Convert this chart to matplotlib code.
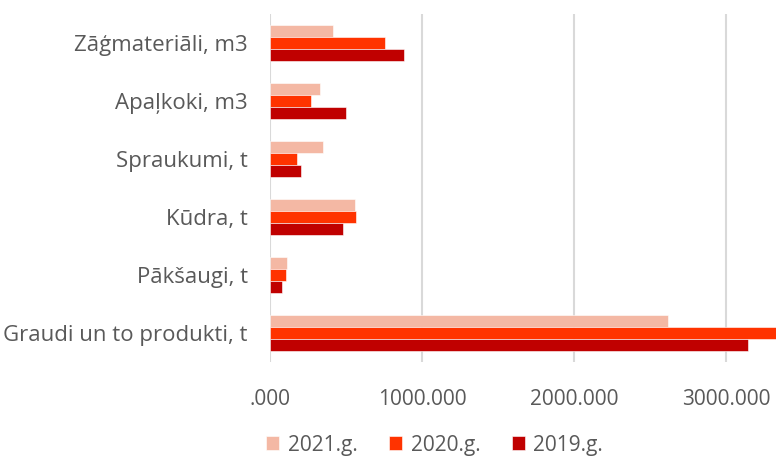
import matplotlib.pyplot as plt
import numpy as np
from matplotlib.ticker import FuncFormatter

# categories from bottom to top
categories = ['Graudi un to produkti, t', 'Pākšaugi, t', 'Kūdra, t',
              'Spraukumi, t', 'Apaļkoki, m3', 'Zāģmateriāli, m3']
y2021 = [2616, 110, 559, 351, 329, 416]
y2020 = [3327, 103, 568, 178, 268, 759]
y2019 = [3149, 79, 482, 202, 500, 882]
series_names = ['2021.g.', '2020.g.', '2019.g.']
colors = ['#F4B8A4', '#FF3300', '#C00000']

plt.rcParams['font.family'] = ['Open Sans', 'DejaVu Sans']
text_col = '#595959'

fig = plt.figure(figsize=(7.76, 4.59), dpi=100)
ax = fig.add_axes([0.348, 0.211, 0.652, 0.758])

y = np.arange(len(categories))
h = 0.207
# 2021 on top, 2019 at bottom of each group
for i, (vals, name, c) in enumerate(zip([y2021, y2020, y2019], series_names, colors)):
    ax.barh(y + h * (1 - i), vals, height=h, color=c, label=name,
            edgecolor='white', linewidth=0.4, zorder=3)

ax.set_xlim(0, 3330)
ax.set_ylim(-0.5, len(categories) - 0.5)
ax.set_xticks([0, 1000, 2000, 3000])


def fmt(v, pos):
    s = f'{v:.3f}'
    if s.startswith('0.'):
        s = s[1:]
    return s


ax.xaxis.set_major_formatter(FuncFormatter(fmt))
ax.set_yticks(y)
ax.set_yticklabels(categories)
ax.tick_params(axis='y', length=0, pad=16, labelsize=16, labelcolor=text_col)
ax.tick_params(axis='x', length=0, pad=19, labelsize=15, labelcolor=text_col)
ax.grid(axis='x', color='#D9D9D9', linewidth=1.5, zorder=0)
for s in ax.spines.values():
    s.set_visible(False)

fig.legend(loc='center', bbox_to_anchor=(0.56, 0.03), ncol=3, frameon=False,
           fontsize=15, labelcolor=text_col, handlelength=0.65, handleheight=0.65,
           handletextpad=0.4, columnspacing=1.5)

fig.savefig('out.png', dpi=100)
